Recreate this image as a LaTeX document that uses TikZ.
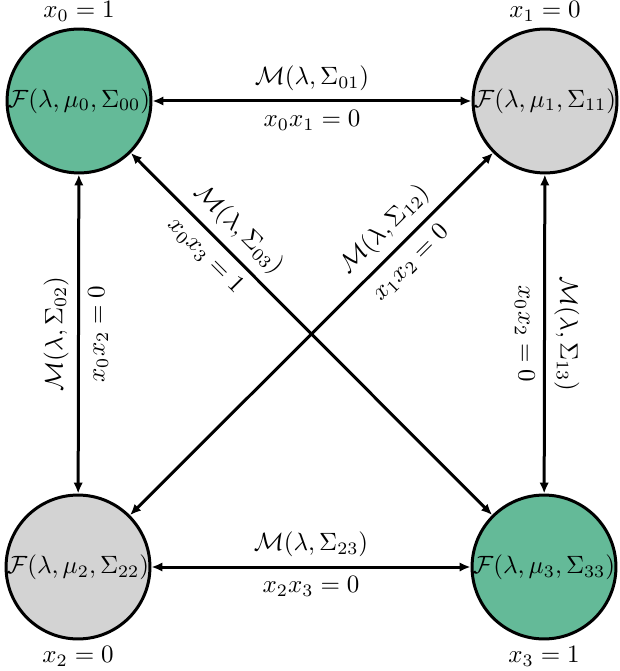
\documentclass[tikz,border=0pt]{standalone}
\usetikzlibrary{arrows.meta}
\definecolor{nodegreen}{RGB}{100,186,152}
\definecolor{nodegray}{RGB}{211,211,211}
\begin{document}
\begin{tikzpicture}[x=0.4pt,y=-0.4pt,
  state/.style={circle,draw=black,line width=1.2pt,minimum size=57.5pt,inner sep=0pt},
  link/.style={line width=1.2pt,{Latex[length=4.4pt,width=3.8pt]}-{Latex[length=4.4pt,width=3.8pt]}}]
\useasboundingbox (0,0) rectangle (619,671);
\node[state,fill=nodegreen,label={[label distance=-1.2pt]above:$x_0=1$}] (n0) at (79,101) {$\mathcal{F}(\lambda,\mu_0,\Sigma_{00})$};
\node[state,fill=nodegray,label={[label distance=-1.2pt]above:$x_1=0$}] (n1) at (545,101) {$\mathcal{F}(\lambda,\mu_1,\Sigma_{11})$};
\node[state,fill=nodegray,label={[label distance=-1.2pt]below:$x_2=0$}] (n2) at (78,567) {$\mathcal{F}(\lambda,\mu_2,\Sigma_{22})$};
\node[state,fill=nodegreen,label={[label distance=-1.2pt]below:$x_3=1$}] (n3) at (544,567) {$\mathcal{F}(\lambda,\mu_3,\Sigma_{33})$};
\draw[link] (n0) -- node[above]{$\mathcal{M}(\lambda,\Sigma_{01})$} node[below]{$x_0x_1=0$} (n1);
\draw[link] (n2) -- node[above]{$\mathcal{M}(\lambda,\Sigma_{23})$} node[below]{$x_2x_3=0$} (n3);
\draw[link] (n2) -- node[anchor=south,rotate=90]{$\mathcal{M}(\lambda,\Sigma_{02})$} node[anchor=north,rotate=90]{$x_0x_2=0$} (n0);
\draw[link] (n1) -- node[anchor=south,rotate=-90]{$\mathcal{M}(\lambda,\Sigma_{13})$} node[anchor=north,rotate=-90]{$x_0x_2=0$} (n3);
\draw[link] (n0) -- node[pos=0.255,sloped,above]{$\mathcal{M}(\lambda,\Sigma_{03})$} node[pos=0.245,sloped,below]{$x_0x_3=1$} (n3);
\draw[link] (n2) -- node[pos=0.745,sloped,above]{$\mathcal{M}(\lambda,\Sigma_{12})$} node[pos=0.735,sloped,below]{$x_1x_2=0$} (n1);
\end{tikzpicture}
\end{document}
